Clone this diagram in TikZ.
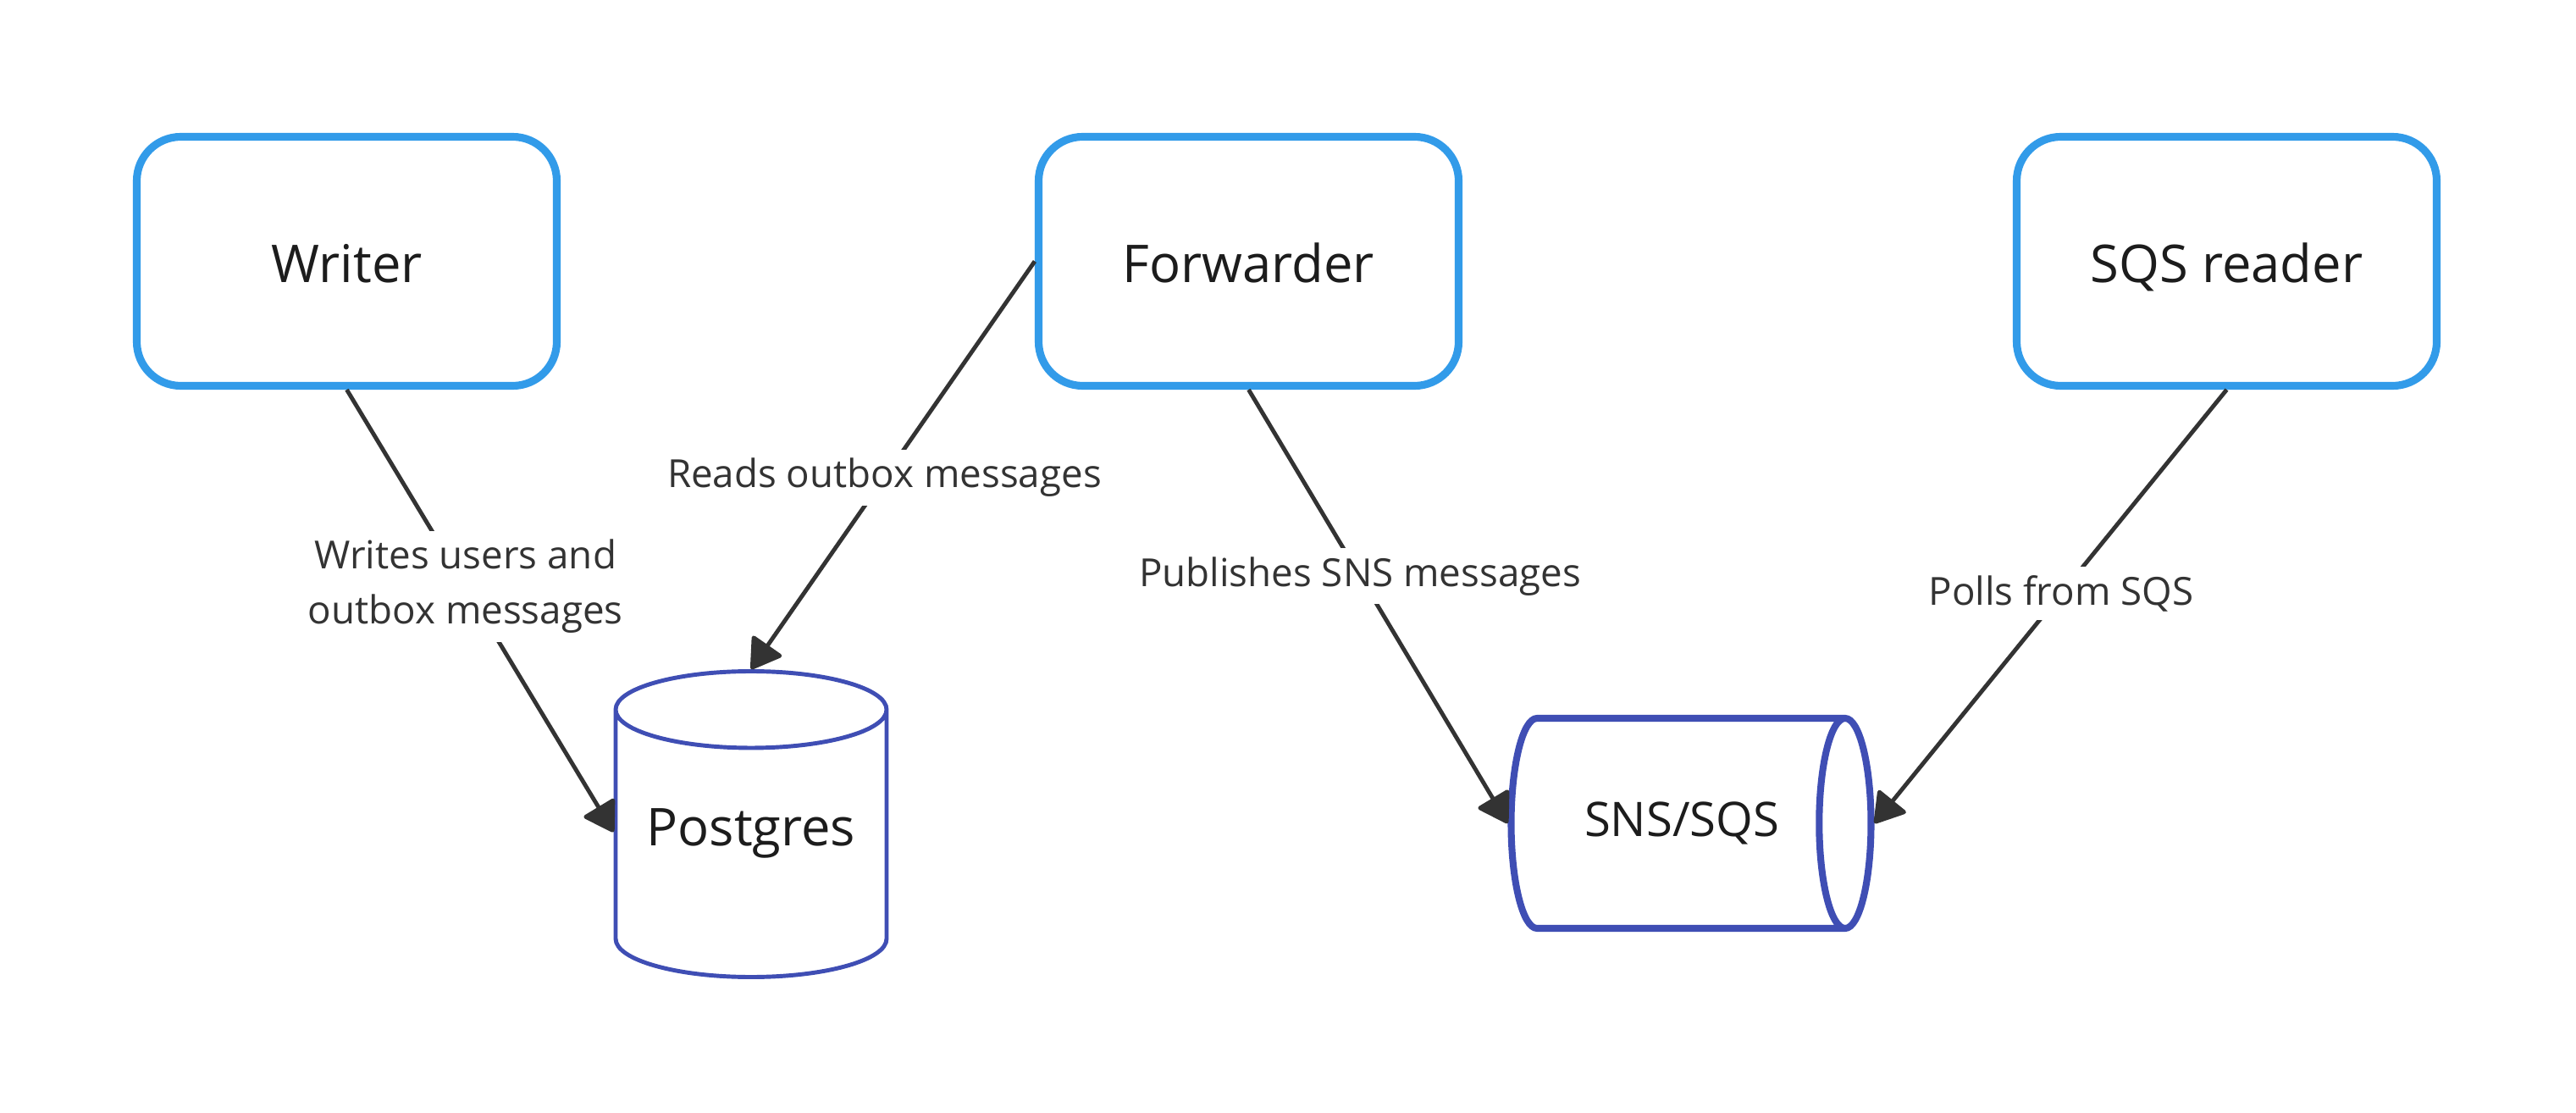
\documentclass[tikz,border=0pt]{standalone}
\usepackage{fontspec}
\setmainfont{Open Sans}
\usetikzlibrary{arrows.meta,positioning,shapes.geometric}
\definecolor{boxblue}{HTML}{329BE9}
\definecolor{dbblue}{HTML}{3F4EB4}
\definecolor{linegray}{HTML}{333333}
\definecolor{textdark}{HTML}{1C1C1C}

\begin{document}
\begin{tikzpicture}[
 service/.style={draw=boxblue,line width=2.6pt,rounded corners=0.52cm,minimum width=4.96cm,minimum height=2.94cm,
   font=\fontsize{17.5}{21}\selectfont,text=textdark,text height=0.61cm,text depth=0.1cm},
 store/.style={draw=dbblue,cylinder,fill=white,text=textdark,anchor=shape center},
 flow/.style={draw=linegray,line width=1.4pt,-{Triangle[length=0.37cm,width=0.45cm,round]}},
 lbl/.style={fill=white,font=\fontsize{13}{18.5}\selectfont,text=linegray,align=center,inner sep=0.1cm}]
\useasboundingbox (0,0) rectangle (30.42,-13.14);
\foreach \nm/\x/\txt in {writer/4.095/Writer,forwarder/14.745/Forwarder,sqsreader/26.295/SQS reader}
  \node[service] (\nm) at (\x,-3.085) {\txt};
\node[store,line width=1.4pt,shape border rotate=90,aspect=0.335,minimum width=3.2cm,minimum height=3.61cm,
  font=\fontsize{17.5}{21}\selectfont,text height=0.44cm,text depth=0.57cm] (postgres) at (8.87,-9.73) {Postgres};
\node[store,line width=2.3pt,aspect=0.83,minimum width=2.48cm,minimum height=4.25cm,
  font=\fontsize{16}{19}\selectfont] (snssqs) at (19.97,-9.72) {\hspace*{0.26cm}SNS/SQS};
\draw[flow] (writer.south) -- node[lbl,pos=0.445] {Writes users and\\outbox messages} ([yshift=0.23cm]postgres.west);
\draw[flow] (forwarder.west) -- node[lbl,pos=0.53] {Reads outbox messages} (postgres.north);
\draw[flow] (forwarder.south) -- node[lbl,pos=0.43] {Publishes SNS messages} (snssqs.west);
\draw[flow] (sqsreader.south) -- node[lbl,pos=0.47] {Polls from SQS} (snssqs.east);
\end{tikzpicture}
\end{document}
